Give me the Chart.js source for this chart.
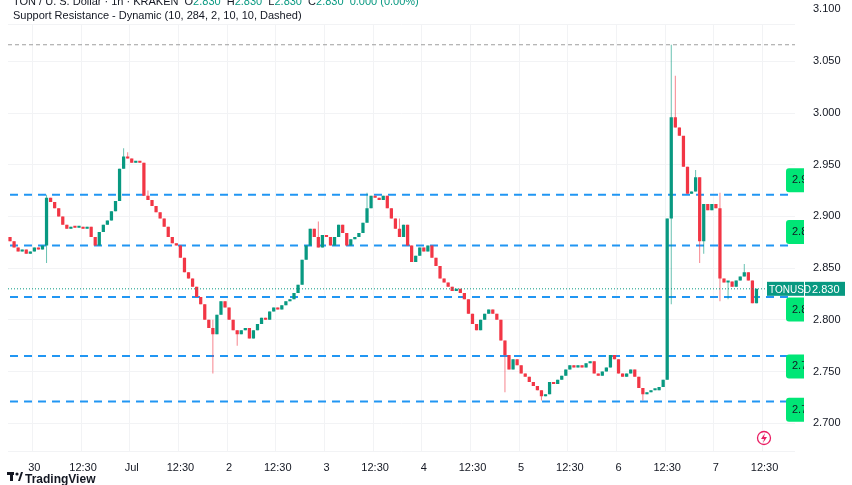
<!DOCTYPE html>
<html>
<head>
<meta charset="utf-8">
<script src="https://cdn.jsdelivr.net/npm/chart.js@4"></script>
<style>
  html, body { margin: 0; padding: 0; background: #fff; }
  #wrap { width: 852px; height: 485px; }
</style>
</head>
<body>
<div id="wrap"><canvas id="chart" width="852" height="485"></canvas></div>
<script>
/* ================= DATA ================= */

// hourly closes, TON / USD (KRAKEN)
const closes = [
    2.876, 2.870, 2.866, 2.868, 2.864, 2.866, 2.870, 2.868, 2.872, 2.918,
    2.914, 2.908, 2.900, 2.892, 2.888, 2.890, 2.889, 2.890, 2.888, 2.890,
    2.880, 2.872, 2.885, 2.892, 2.896, 2.905, 2.915, 2.946, 2.958, 2.956,
    2.952, 2.953, 2.952, 2.920, 2.916, 2.910, 2.904, 2.898, 2.890, 2.880,
    2.874, 2.872, 2.860, 2.846, 2.840, 2.832, 2.822, 2.815, 2.800, 2.792,
    2.786, 2.805, 2.818, 2.812, 2.800, 2.790, 2.786, 2.790, 2.792, 2.782,
    2.790, 2.796, 2.802, 2.800, 2.808, 2.812, 2.810, 2.814, 2.818, 2.820,
    2.826, 2.834, 2.858, 2.872, 2.888, 2.880, 2.870, 2.882, 2.880, 2.872,
    2.880, 2.892, 2.884, 2.872, 2.878, 2.880, 2.884, 2.894, 2.908, 2.920,
    2.918, 2.916, 2.920, 2.908, 2.898, 2.888, 2.880, 2.892, 2.872, 2.856,
    2.862, 2.870, 2.866, 2.872, 2.860, 2.852, 2.840, 2.836, 2.832, 2.828,
    2.830, 2.826, 2.820, 2.806, 2.796, 2.790, 2.800, 2.806, 2.810, 2.806,
    2.800, 2.780, 2.766, 2.752, 2.762, 2.756, 2.748, 2.745, 2.740, 2.736,
    2.732, 2.726, 2.728, 2.740, 2.738, 2.742, 2.746, 2.752, 2.756, 2.754,
    2.756, 2.754, 2.758, 2.760, 2.748, 2.746, 2.750, 2.754, 2.766, 2.762,
    2.748, 2.745, 2.748, 2.752, 2.745, 2.734, 2.728, 2.730, 2.732, 2.732,
    2.735, 2.742, 2.898, 2.996, 2.986, 2.978, 2.948, 2.922, 2.924, 2.938,
    2.876, 2.912, 2.906, 2.912, 2.908, 2.840, 2.836, 2.837, 2.832, 2.838,
    2.842, 2.846, 2.838, 2.816, 2.830
];
const firstOpen = 2.880;

// notable wick extremes: [candle index, price]
const wickHighs = [
    [9, 2.921], [28, 2.966], [29, 2.962], [34, 2.925], [50, 2.800],
    [76, 2.895], [88, 2.923], [96, 2.898], [163, 3.066], [164, 3.036],
    [166, 2.960], [169, 2.945], [175, 2.923], [181, 2.854]
];
const wickLows = [
    [9, 2.855], [50, 2.748], [56, 2.775], [122, 2.730], [131, 2.722],
    [156, 2.722], [163, 2.815], [170, 2.855], [171, 2.864], [175, 2.818],
    [177, 2.820]
];

// support / resistance levels
const levels = [2.921, 2.872, 2.822, 2.765, 2.721];
const topLevel = 3.066;
const levelTags = [2.935, 2.885, 2.810, 2.755, 2.713];
const levelTagText = ["2.9", "2.8", "2.8", "2.7", "2.7"];
const lastPrice = 2.830;

// x-axis tick labels, one every 12 candles starting at index 6
const tickLabels = ["30", "12:30", "Jul", "12:30", "2", "12:30", "3", "12:30",
    "4", "12:30", "5", "12:30", "6", "12:30", "7", "12:30"];
const firstTick = 6;
const totalSlots = 194;

/* ================= BUILD ================= */

const UP = "#089981";
const DOWN = "#f23645";
const FONT = "'Liberation Sans', Arial";

const labels = Array.from({ length: totalSlots }, (_, i) => i);
const bodies = [], wicks = [], colors = [];
closes.forEach((c, i) => {
    const o = i === 0 ? firstOpen : closes[i - 1];
    let hi = Math.max(o, c), lo = Math.min(o, c);
    wickHighs.forEach(w => { if (w[0] === i) hi = w[1]; });
    wickLows.forEach(w => { if (w[0] === i) lo = w[1]; });
    bodies.push([o, c]);
    wicks.push([lo, hi]);
    colors.push(c >= o ? UP : DOWN);
});

const levelSets = levels.map(v => ({
    type: "line",
    data: labels.map(() => v),
    borderColor: "#2196f3",
    borderWidth: 2,
    borderDash: [8, 6],
    pointRadius: 0,
    order: 5
}));

/* ================= OVERLAY ================= */

const overlay = {
    id: "overlay",
    afterDatasetsDraw(chart) {
        const { ctx, chartArea, scales } = chart;
        const y = scales.y;
        const R = chartArea.right;
        ctx.save();

        // last price dotted line
        const py = y.getPixelForValue(lastPrice);
        ctx.strokeStyle = UP;
        ctx.lineWidth = 1;
        ctx.setLineDash([1, 2]);
        ctx.beginPath();
        ctx.moveTo(chartArea.left, py);
        ctx.lineTo(R, py);
        ctx.stroke();

        // top level
        const ty = y.getPixelForValue(topLevel);
        ctx.strokeStyle = "#9e9e9e";
        ctx.setLineDash([4, 3]);
        ctx.beginPath();
        ctx.moveTo(chartArea.left, ty);
        ctx.lineTo(R, ty);
        ctx.stroke();
        ctx.setLineDash([]);

        // level tags clipped at axis
        ctx.save();
        ctx.beginPath();
        ctx.rect(0, 0, R + 9, 485);
        ctx.clip();
        levelTags.forEach((v, k) => {
            const ly = y.getPixelForValue(v);
            ctx.fillStyle = "#00e676";
            ctx.beginPath();
            ctx.roundRect(R - 9, ly - 12, 30, 24, 3);
            ctx.fill();
            ctx.fillStyle = "#131722";
            ctx.font = "11px " + FONT;
            ctx.textBaseline = "middle";
            ctx.fillText(levelTagText[k], R - 3, ly);
        });
        ctx.restore();

        // TONUSD tag + axis price
        ctx.fillStyle = UP;
        ctx.fillRect(R - 28, py - 7, 37, 14);
        ctx.fillRect(R + 10, py - 7, 40, 14);
        ctx.fillStyle = "#fff";
        ctx.font = "10px " + FONT;
        ctx.textBaseline = "middle";
        ctx.fillText("TONUSD", R - 26, py + 1);
        ctx.font = "11px " + FONT;
        ctx.fillText("2.830", R + 17, py + 1);

        // top price label (outside scale range)
        ctx.fillStyle = "#131722";
        ctx.fillText("3.100", R + 18, 9);

        // header
        ctx.textBaseline = "alphabetic";
        ctx.font = "11px " + FONT;
        ctx.fillStyle = "#131722";
        const head = "TON / U. S. Dollar · 1h · KRAKEN  O";
        ctx.fillText(head, 13, 5);
        let hx = 13 + ctx.measureText(head).width;
        const parts = [["2.830", UP], ["  H", "#131722"], ["2.830", UP], ["  L", "#131722"],
            ["2.830", UP], ["  C", "#131722"], ["2.830  0.000 (0.00%)", UP]];
        parts.forEach(p => {
            ctx.fillStyle = p[1];
            ctx.fillText(p[0], hx, 5);
            hx += ctx.measureText(p[0]).width;
        });
        ctx.fillStyle = "#131722";
        ctx.fillText("Support Resistance - Dynamic (10, 284, 2, 10, 10, Dashed)", 13, 19);

        // logo
        ctx.fillStyle = "#131722";
        ctx.font = "bold 12px " + FONT;
        ctx.fillText("TradingView", 25, 483);
        ctx.fillRect(7, 472, 7, 3);
        ctx.fillRect(10, 472, 3, 9);
        ctx.beginPath();
        ctx.arc(17, 474, 1.6, 0, Math.PI * 2);
        ctx.fill();
        ctx.beginPath();
        ctx.moveTo(18, 481); ctx.lineTo(21, 472); ctx.lineTo(23, 472); ctx.lineTo(20, 481);
        ctx.fill();

        // lightning icon
        ctx.strokeStyle = "#e91e63";
        ctx.lineWidth = 1.3;
        ctx.beginPath();
        ctx.arc(764, 438, 6.5, 0, Math.PI * 2);
        ctx.stroke();
        ctx.fillStyle = "#e91e63";
        ctx.beginPath();
        ctx.moveTo(765, 433); ctx.lineTo(761, 439); ctx.lineTo(764, 439);
        ctx.lineTo(763, 443); ctx.lineTo(767, 437); ctx.lineTo(764, 437);
        ctx.closePath();
        ctx.fill();

        ctx.restore();
    }
};

/* ================= CHART ================= */

new Chart(document.getElementById("chart"), {
    type: "bar",
    data: {
        labels,
        datasets: [
            {
                data: bodies,
                backgroundColor: colors,
                barPercentage: 0.8,
                categoryPercentage: 1,
                grouped: false,
                minBarLength: 2,
                order: 1
            },
            {
                data: wicks,
                backgroundColor: colors.map(c => c + "99"),
                barPercentage: 0.25,
                categoryPercentage: 1,
                grouped: false,
                minBarLength: 1,
                order: 2
            },
            ...levelSets
        ]
    },
    options: {
        responsive: false,
        animation: false,
        layout: { padding: { left: 8, right: 4, top: 0, bottom: 0 } },
        plugins: { legend: { display: false }, tooltip: { enabled: false } },
        scales: {
            x: {
                offset: true,
                grid: {
                    drawTicks: false,
                    color: ctx => (ctx.index - firstTick) % 12 === 0 ? "#f2f3f5" : "transparent"
                },
                border: { display: false },
                ticks: {
                    autoSkip: false,
                    maxRotation: 0,
                    padding: 10,
                    color: "#131722",
                    font: { family: FONT, size: 11 },
                    callback: (v, i) => {
                        const k = i - firstTick;
                        return k >= 0 && k % 12 === 0 ? (tickLabels[k / 12] || "") : "";
                    }
                }
            },
            y: {
                position: "right",
                min: 2.6724,
                max: 3.0855,
                afterFit: s => { s.width = 53; },
                grid: { color: "#f2f3f5", drawTicks: false },
                border: { display: false },
                ticks: {
                    stepSize: 0.05,
                    padding: 18,
                    color: "#131722",
                    font: { family: FONT, size: 11 },
                    callback: v => Math.abs(v * 20 - Math.round(v * 20)) < 1e-6 ? v.toFixed(3) : ""
                }
            }
        }
    },
    plugins: [overlay]
});
</script>
</body>
</html>
